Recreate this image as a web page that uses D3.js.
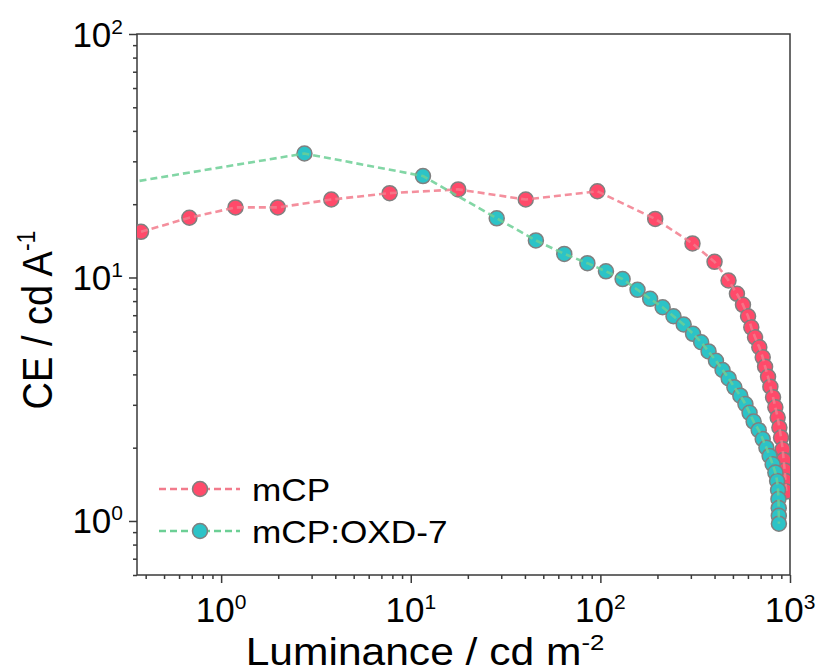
<!DOCTYPE html>
<html>
<head>
<meta charset="utf-8">
<script src="https://cdn.jsdelivr.net/npm/d3@7.9.0/dist/d3.min.js"></script>
<style>
  body { margin: 0; background: #fff; }
  svg { display: block; font-family: "Liberation Sans", Arial, sans-serif; }
</style>
</head>
<body>
<svg id="chart" width="820" height="672"></svg>
<script>
// luminance (cd m^-2) and current efficiency (cd A^-1)
const mcpLum = [0.378, 0.680, 1.19, 1.99, 3.81, 7.74, 17.8, 40.4, 96.4, 194.6, 306, 400, 474, 525, 565, 601, 625, 654, 689, 718, 739, 766, 788, 814, 837, 861, 879, 897, 915, 926, 938, 946, 957];
const mcpCE = [15.4, 17.6, 19.4, 19.4, 20.9, 22.2, 23.0, 20.9, 22.6, 17.4, 13.8, 11.6, 9.72, 8.57, 7.72, 6.93, 6.24, 5.68, 5.17, 4.70, 4.30, 3.91, 3.56, 3.22, 2.93, 2.66, 2.42, 2.20, 1.97, 1.78, 1.61, 1.46, 1.32];

const oxdLum = [0.25, 2.75, 11.6, 28.4, 45.7, 64.5, 85.4, 107, 131, 157, 183, 213, 243, 275, 308, 340, 372, 407, 441, 475, 509, 547, 582, 612, 643, 684, 718, 751, 781, 810, 837, 855, 865, 869, 872, 873, 874];
const oxdCE = [23.7, 32.3, 26.1, 17.5, 14.2, 12.5, 11.45, 10.6, 9.85, 8.90, 8.17, 7.55, 6.93, 6.41, 5.87, 5.42, 4.97, 4.55, 4.17, 3.85, 3.54, 3.27, 3.02, 2.78, 2.56, 2.36, 2.17, 2.00, 1.85, 1.71, 1.58, 1.46, 1.34, 1.23, 1.13, 1.05, 0.975];

const seriesNames = ["mCP", "mCP:OXD-7"];
const xMajor = [1, 10, 100, 1000];
const yMajor = [1, 10, 100];

const svg = d3.select("#chart");
const margin = { top: 34, right: 30, bottom: 97, left: 137 };
const W = 820, H = 672;
const innerW = W - margin.left - margin.right;
const innerH = H - margin.top - margin.bottom;

const x = d3.scaleLog().domain([0.36, 1000]).range([0, innerW]);
const y = d3.scaleLog().domain([0.6, 100]).range([innerH, 0]);

const axisColor = "#3a3a3a";
const styles = [
  { fill: "#ff4a6a", line: "#f27b8c" },
  { fill: "#2cc3c7", line: "#6ccf95" }
];

const g = svg.append("g").attr("transform", `translate(${margin.left},${margin.top})`);

g.append("defs").append("clipPath").attr("id", "plotclip")
  .append("rect").attr("width", innerW).attr("height", innerH);

// minor ticks
function minors(lo, hi) {
  const out = [];
  for (let e = Math.floor(Math.log10(lo)); e < Math.ceil(Math.log10(hi)); e++) {
    for (let k = 2; k <= 9; k++) {
      const v = k * Math.pow(10, e);
      if (v >= lo * 0.999 && v <= hi * 1.001) out.push(v);
    }
  }
  return out;
}

const xAxisMinor = d3.axisBottom(x).tickValues(minors(0.36, 1000)).tickSize(4).tickFormat("");
const xAxisMajor = d3.axisBottom(x).tickValues(xMajor).tickSize(8).tickFormat("");
const yAxisMinor = d3.axisLeft(y).tickValues(minors(0.6, 100)).tickSize(4).tickFormat("");
const yAxisMajor = d3.axisLeft(y).tickValues(yMajor).tickSize(8).tickFormat("");

[xAxisMinor, xAxisMajor].forEach(a => {
  g.append("g").attr("transform", `translate(0,${innerH})`).call(a)
    .call(s => s.select(".domain").remove());
});
[yAxisMinor, yAxisMajor].forEach(a => {
  g.append("g").call(a).call(s => s.select(".domain").remove());
});
g.selectAll(".tick line").attr("stroke", axisColor).attr("stroke-width", 1.5);

// frame
g.append("rect").attr("width", innerW).attr("height", innerH)
  .attr("fill", "none").attr("stroke", axisColor).attr("stroke-width", 1.5);

// tick labels with superscript
const xl = g.append("g").selectAll("text").data(xMajor).join("text")
  .attr("x", d => x(d)).attr("y", innerH + 47)
  .attr("text-anchor", "middle").attr("font-size", 35).attr("fill", "#000");
xl.append("tspan").text("10");
xl.append("tspan").attr("font-size", 21).attr("dy", -13).text(d => Math.round(Math.log10(d)));

const yl = g.append("g").selectAll("text").data(yMajor).join("text")
  .attr("x", -14).attr("y", d => y(d) + 12.5)
  .attr("text-anchor", "end").attr("font-size", 35).attr("fill", "#000");
yl.append("tspan").text("10");
yl.append("tspan").attr("font-size", 21).attr("dy", -13).text(d => Math.round(Math.log10(d)));

// axis titles (the source renders them a little wide)
const xt = svg.append("text").attr("transform", "translate(425,665) scale(1.12,1)")
  .attr("text-anchor", "middle").attr("font-size", 38).attr("fill", "#000");
xt.append("tspan").text("Luminance / cd m");
xt.append("tspan").attr("font-size", 23).attr("dy", -15).text("-2");

const yt = svg.append("text").attr("transform", "translate(52,320) rotate(-90) scale(1,1.12)")
  .attr("text-anchor", "middle").attr("font-size", 38).attr("fill", "#000");
yt.append("tspan").text("CE / cd A");
yt.append("tspan").attr("font-size", 23).attr("dy", -15).text("-1");

// data
const series = [
  mcpLum.map((v, i) => [v, mcpCE[i]]),
  oxdLum.map((v, i) => [v, oxdCE[i]])
];
const line = d3.line().x(d => x(d[0])).y(d => y(d[1]));
const plot = g.append("g").attr("clip-path", "url(#plotclip)");

series.forEach((pts, si) => {
  plot.append("g").selectAll("circle").data(pts).join("circle")
    .attr("cx", d => x(d[0])).attr("cy", d => y(d[1])).attr("r", 7.5)
    .attr("fill", styles[si].fill).attr("stroke", "#808080").attr("stroke-width", 1.5);
  plot.append("path").datum(pts).attr("d", line)
    .attr("fill", "none").attr("stroke", styles[si].line).attr("stroke-width", 2.6)
    .attr("stroke-dasharray", "7,4").attr("opacity", 0.85);
});

// legend
const legY = [489, 531];
const leg = svg.append("g");
seriesNames.forEach((name, i) => {
  leg.append("line").attr("x1", 159).attr("x2", 240).attr("y1", legY[i]).attr("y2", legY[i])
    .attr("stroke", styles[i].line).attr("stroke-width", 2.6).attr("stroke-dasharray", "7,4");
  leg.append("circle").attr("cx", 200).attr("cy", legY[i]).attr("r", 7.5)
    .attr("fill", styles[i].fill).attr("stroke", "#808080").attr("stroke-width", 1.5);
  leg.append("text").attr("transform", `translate(252,${legY[i] + 11.5}) scale(1.1,1)`)
    .attr("font-size", 32).attr("fill", "#000").text(name);
});
</script>
</body>
</html>
